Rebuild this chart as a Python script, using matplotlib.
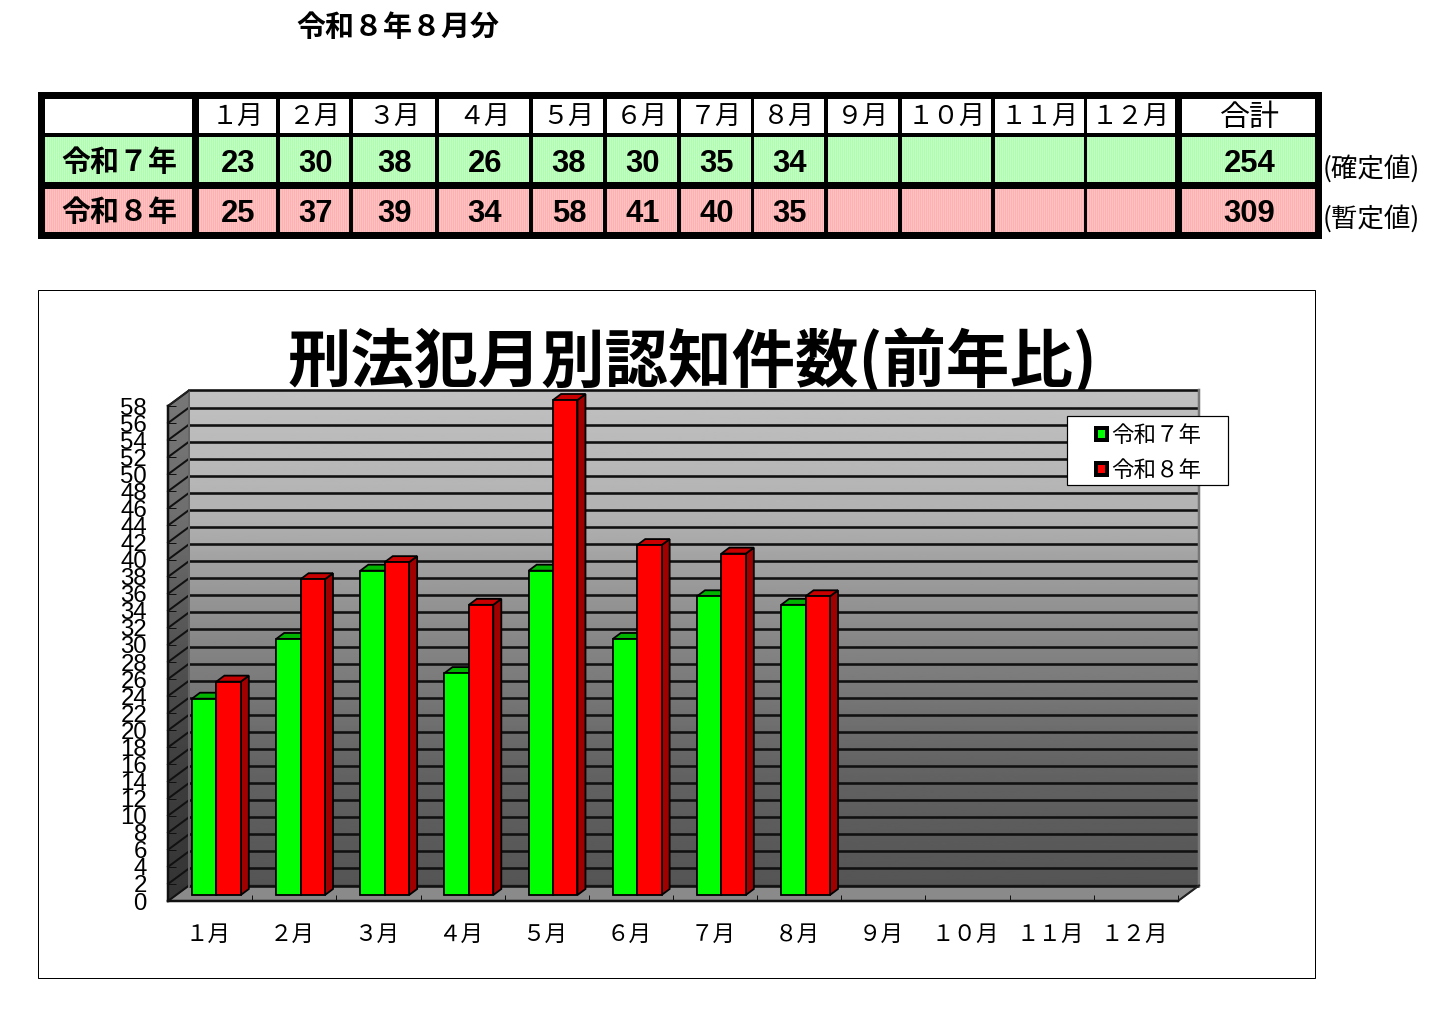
import numpy as np
import matplotlib
matplotlib.use("Agg")
import matplotlib.pyplot as plt
from matplotlib.patches import Rectangle, Polygon, Patch
from matplotlib.transforms import ScaledTranslation

# ---- data ----
months = ["１月", "２月", "３月", "４月", "５月", "６月", "７月", "８月", "９月", "１０月", "１１月", "１２月"]
r7_values = [23, 30, 38, 26, 38, 30, 35, 34]
r8_values = [25, 37, 39, 34, 58, 41, 40, 35]
r7_total = 254
r8_total = 309
r7_name = "令和７年"
r8_name = "令和８年"
page_title = "令和８年８月分"
chart_title = "刑法犯月別認知件数(前年比)"
total_label = "合計"
r7_note = "(確定値)"
r8_note = "(暫定値)"
y_ticks = list(range(0, 59, 2))

# ---- style ----
W, H = 1452, 1022
CJK = ["Noto Sans CJK JP", "DejaVu Sans"]
NUM = ["Liberation Sans", "DejaVu Sans"]
plt.rcParams["font.family"] = CJK
px = 0.72

fig = plt.figure(figsize=(W / 100, H / 100), dpi=100, facecolor="white")

# page layer in pixel coordinates
bg = fig.add_axes([0, 0, 1, 1], zorder=0)
bg.set_xlim(0, W)
bg.set_ylim(H, 0)
bg.axis("off")

bg.text(398, 27, page_title, fontsize=29 * px, fontweight="bold", ha="center", va="center")

# ---- table ----
bg.add_patch(Rectangle((38, 92), 1322 - 38, 239 - 92, fc="black", ec="none"))
col_edges = [(45, 192), (199, 276), (280, 349), (353, 435), (439, 529), (533, 603), (607, 677),
             (681, 751), (754, 824), (828, 898), (902, 991), (995, 1084), (1087, 1175), (1182, 1315)]
row_edges = [(99, 133), (137, 182), (189, 232)]
row_mid = [117, 163.5, 213.5]


def dither(c1, c2, w, h):
    yy, xx = np.mgrid[0:h, 0:w]
    a = (xx % 2 == 0)[..., None]
    return (a * np.array(c1) + (~a) * np.array(c2)).astype(np.uint8)


GREEN_CELL = ((176, 252, 176), (194, 255, 194))
PINK_CELL = ((255, 176, 176), (255, 194, 194))
for (x0, x1) in col_edges:
    bg.add_patch(Rectangle((x0, 99), x1 - x0, 34, fc="white", ec="none"))
    for (y0, y1), cols in zip(row_edges[1:], (GREEN_CELL, PINK_CELL)):
        bg.imshow(dither(cols[0], cols[1], x1 - x0, y1 - y0), extent=(x0, x1, y1, y0),
                  interpolation="nearest", aspect="auto", zorder=2)
bg.set_xlim(0, W)
bg.set_ylim(H, 0)


def cx(i):
    return sum(col_edges[i]) / 2


for i, m in enumerate(months):
    bg.text(cx(i + 1), row_mid[0], m, fontsize=26 * px, ha="center", va="center", zorder=3)
bg.text(cx(13) + 1, row_mid[0], total_label, fontsize=30 * px, ha="center", va="center", zorder=3)
for row, name, vals, tot, note in ((1, r7_name, r7_values, r7_total, r7_note),
                                   (2, r8_name, r8_values, r8_total, r8_note)):
    bg.text(cx(0) + 1, row_mid[row] - 1, name, fontsize=29 * px, fontweight="bold",
            ha="center", va="center", zorder=3)
    for i, v in enumerate(vals):
        bg.text(cx(i + 1) + 1, row_mid[row], str(v), fontsize=31 * px, fontweight="bold",
                family=NUM, ha="center", va="center", zorder=3)
    bg.text(cx(13) + 1, row_mid[row], str(tot), fontsize=31 * px, fontweight="bold",
            family=NUM, ha="center", va="center", zorder=3)
    bg.text(1323, row_mid[row] + 5, note, fontsize=26.5 * px, ha="left", va="center", zorder=3)

# ---- chart panel ----
bg.add_patch(Rectangle((38, 290), 1277, 688, fc="white", ec="black", lw=1 * px, zorder=1))
bg.text(692, 362, chart_title, fontsize=63.5 * px, fontweight="bold", ha="center", va="center", zorder=3)

# ---- pseudo-3D chart: axes aligned to the front plane ----
L, R, T, B = 168, 1178, 406, 901
ax = fig.add_axes([L / W, 1 - B / H, (R - L) / W, (B - T) / H], zorder=2)
ax.patch.set_alpha(0)
n_cat = len(months)
y_max = 58
ux = n_cat / (R - L)   # category units per pixel
uy = y_max / (B - T)   # value units per pixel
DX, DY = 21 * ux, 15.5 * uy       # wall depth
BAR_DX, BAR_DY = 8 * ux, 6 * uy   # bar offset from the front plane


def poly(pts, **kw):
    p = Polygon(pts, closed=True, clip_on=False, joinstyle="miter", **kw)
    ax.add_patch(p)
    return p


# walls with vertical gradient
grad_back = np.interp(np.linspace(0, 1, 256), [0, .25, .5, .75, 1], [192, 178, 135, 100, 85])
grad_side = grad_back * 0.62
wall_back = ax.imshow(grad_back[:, None], cmap="gray", vmin=0, vmax=255, aspect="auto",
                      extent=(DX, n_cat + DX, DY, y_max + DY), zorder=1)
wall_back.set_clip_path(Polygon([(DX, DY), (n_cat + DX, DY), (n_cat + DX, y_max + DY), (DX, y_max + DY)],
                                transform=ax.transData))
wall_back.set_clip_box(fig.bbox)
wall_side = ax.imshow(grad_side[:, None], cmap="gray", vmin=0, vmax=255, aspect="auto",
                      extent=(0, DX, 0, y_max + DY), zorder=1)
wall_side.set_clip_path(Polygon([(0, 0), (DX, DY), (DX, y_max + DY), (0, y_max)], transform=ax.transData))
wall_side.set_clip_box(fig.bbox)
poly([(0, 0), (n_cat, 0), (n_cat + DX, DY), (DX, DY)], fc="#8a8a8a", ec="#333333", lw=1.5 * px, zorder=1.5)

# gridlines
for v in y_ticks:
    c = "#111111"
    ax.plot([DX, n_cat + DX], [v + DY, v + DY], color=c, lw=2.6 * px, clip_on=False, zorder=1.6,
            solid_capstyle="butt")
    ax.plot([0, DX], [v, v + DY], color=c, lw=2.0 * px, clip_on=False, zorder=1.6)
ax.plot([DX, DX], [DY, y_max + DY], color="#666666", lw=2 * px, clip_on=False, zorder=1.6)
ax.plot([n_cat + DX, n_cat + DX], [DY, y_max + DY], color="#777777", lw=2.5 * px, clip_on=False, zorder=1.6)
ax.plot([0, DX], [y_max, y_max + DY], color="#222222", lw=2 * px, clip_on=False, zorder=1.6)
ax.plot([n_cat, n_cat + DX], [0, DY], color="#222222", lw=2 * px, clip_on=False, zorder=1.6)

# bars
BAR_W = 0.29
BAR_OFF = 0.19
SIDE_GREEN, TOP_GREEN = "#009600", "#00b400"
SIDE_RED, TOP_RED = "#a00000", "#c80000"
EDGE = dict(ec="black", lw=1.8 * px, zorder=3)


def bar3d(x0, v, face, side, top):
    xl = x0 + BAR_DX
    xr = xl + BAR_W
    yb = BAR_DY
    yt = v + BAR_DY
    poly([(xr, yb), (xr + BAR_DX, yb + BAR_DY), (xr + BAR_DX, yt + BAR_DY), (xr, yt)], fc=side, **EDGE)
    poly([(xl, yt), (xr, yt), (xr + BAR_DX, yt + BAR_DY), (xl + BAR_DX, yt + BAR_DY)], fc=top, **EDGE)
    poly([(xl, yb), (xr, yb), (xr, yt), (xl, yt)], fc=face, **EDGE)


for i, (a, b) in enumerate(zip(r7_values, r8_values)):
    bar3d(i + BAR_OFF, a, "#00ff00", SIDE_GREEN, TOP_GREEN)
    bar3d(i + BAR_OFF + BAR_W, b, "#ff0000", SIDE_RED, TOP_RED)

# axes and ticks
ax.set_xlim(0, n_cat)
ax.set_ylim(0, y_max)
for s in ("top", "right"):
    ax.spines[s].set_visible(False)
for s in ("left", "bottom"):
    ax.spines[s].set_color("#111111")
    ax.spines[s].set_linewidth(2.5 * px)
    ax.spines[s].set_zorder(4)
ax.set_yticks(y_ticks)
ax.set_yticklabels([str(v) for v in y_ticks], family=NUM, fontsize=24 * px)
ax.tick_params(axis="y", direction="in", length=8 * px, width=1 * px, pad=21 * px, color="#111111")
ax.set_xticks(np.arange(n_cat) + 0.5)
ax.set_xticklabels(months, fontsize=22.5 * px)
ax.set_xticks(np.arange(1, n_cat + 1), minor=True)
ax.tick_params(axis="x", which="major", length=0, pad=22 * px)
ax.tick_params(axis="x", which="minor", direction="in", length=6 * px, width=1 * px, color="#111111")
shift = ScaledTranslation(-2 / 100, 0, fig.dpi_scale_trans)
for lbl in ax.get_xticklabels():
    lbl.set_transform(lbl.get_transform() + shift)

# legend: box and frameless entries
ax.add_patch(Rectangle((1067, 416), 161, 69, transform=bg.transData, fc="white", ec="black",
                       lw=1.2 * px, clip_on=False, zorder=9))
handles = [Patch(fc="#00ff00", ec="black", lw=4 * px, label=r7_name),
           Patch(fc="#ff0000", ec="black", lw=4 * px, label=r8_name)]
leg = ax.legend(handles=handles, prop={"size": 22.5 * px}, loc="upper left",
                bbox_to_anchor=(1096 / W, 1 - 424 / H), bbox_transform=fig.transFigure,
                frameon=False, handlelength=0.49, handleheight=0.49, handletextpad=0.2,
                labelspacing=0.53, borderpad=0, borderaxespad=0)
leg.set_zorder(10)

fig.savefig("out.png", dpi=100)
